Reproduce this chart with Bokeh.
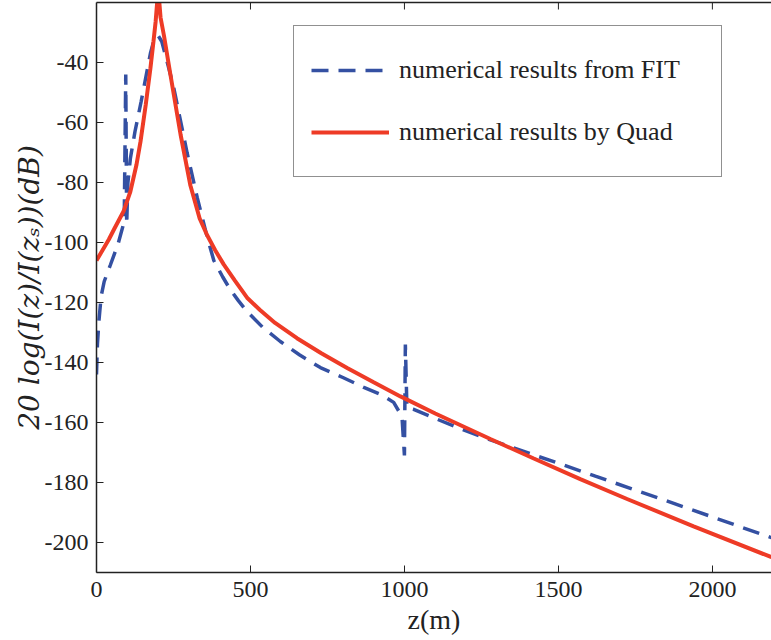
from bokeh.plotting import figure
from bokeh.models import Range1d, LinearAxis, Legend, LegendItem, FixedTicker
from bokeh.embed import file_html
from bokeh.resources import INLINE

# ---- data ----
z_fit = [0, 3, 8, 15, 25, 45, 70, 90, 95, 98, 102, 110, 125, 145, 160, 175, 188, 200, 212,
         230, 250, 270, 294, 327, 359, 381, 410, 435, 460, 489, 540, 597, 660, 727, 800,
         868, 930, 965, 992, 1000, 1003, 1008, 1030, 1106, 1180, 1257, 1333, 1420, 1506,
         1620, 1744, 1870, 2003, 2100, 2192]
db_fit = [-144, -134, -126, -118, -113, -107.5, -100.5, -93, -44, -94, -80, -72, -63, -53,
          -45, -37, -32, -31, -33, -40, -48, -58, -70, -85, -98, -106, -111.5, -115.8,
          -119.3, -123, -128.3, -133, -137.5, -141.7, -145, -148.3, -151, -153.3, -158,
          -171, -134, -155, -155.6, -158.9, -162, -165, -167.7, -170.8, -173.8, -177.9,
          -182.3, -186.8, -191.6, -195.1, -198.4]

z_quad = [0, 20, 40, 60, 88, 110, 130, 143, 160, 175, 185, 192, 197, 200, 204, 208, 219,
          240, 273, 305, 335, 359, 385, 413, 450, 489, 530, 580, 651, 730, 814, 900, 987,
          1100, 1279, 1420, 1571, 1723, 1939, 2192]
db_quad = [-106, -102.5, -99, -95, -89.6, -83, -74, -66.3, -54, -42, -33, -26.4, -20, -12,
           -20, -25, -31, -44, -64, -81, -92, -97.5, -102.5, -107.3, -112.8, -118.4, -122.4,
           -126.8, -131.9, -136.9, -141.8, -146.6, -151.3, -157.0, -165.5, -172.0, -178.9,
           -185.5, -194.6, -204.9]

x_ticks = [0, 500, 1000, 1500, 2000]
y_ticks = [-200, -180, -160, -140, -120, -100, -80, -60, -40]
legend_labels = ["numerical results from FIT", "numerical results by Quad"]
y_label = "20 log(I(z)/I(zₛ))(dB)"
x_label = "z(m)"

BLUE = "#3450A2"
RED = "#EE3B26"
INK = "#222222"
SERIF = "Liberation Serif"

p = figure(width=771, height=640, output_backend="svg", toolbar_location=None,
           x_range=Range1d(0, 2192), y_range=Range1d(-210, -20),
           x_axis_label=x_label, y_axis_label=y_label)
p.min_border_left = 96
p.min_border_right = 0
p.min_border_top = 2
p.min_border_bottom = 68
p.outline_line_color = None
p.grid.visible = False
p.background_fill_color = "white"
p.border_fill_color = "white"

for ax in (p.xaxis[0], p.yaxis[0]):
    ax.axis_line_color = INK
    ax.axis_line_width = 1.5
    ax.major_tick_in = 7
    ax.major_tick_out = 0
    ax.major_tick_line_color = INK
    ax.minor_tick_line_color = None
    ax.major_label_text_font = SERIF
    ax.major_label_text_font_size = "24px"
    ax.major_label_text_color = INK
    ax.axis_label_text_color = INK

p.xaxis[0].ticker = FixedTicker(ticks=x_ticks)
p.yaxis[0].ticker = FixedTicker(ticks=y_ticks)
p.yaxis[0].major_label_overrides = {t: str(t) for t in y_ticks}
p.xaxis[0].major_label_standoff = 9
p.yaxis[0].major_label_standoff = 8
p.xaxis[0].axis_label_text_font = SERIF
p.xaxis[0].axis_label_text_font_size = "28px"
p.xaxis[0].axis_label_text_font_style = "normal"
p.xaxis[0].axis_label_standoff = 4
p.yaxis[0].axis_label_text_font = "DejaVu Serif"
p.yaxis[0].axis_label_text_font_size = "28px"
p.yaxis[0].axis_label_text_font_style = "italic"
p.yaxis[0].axis_label_standoff = -4

# top frame line (no labels) and inward tick marks at the top
top = LinearAxis(ticker=FixedTicker(ticks=[]))
top.axis_line_color = INK
top.axis_line_width = 1.5
top.minor_tick_line_color = None
p.add_layout(top, "above")
tick_len = 7 * (p.y_range.end - p.y_range.start) / 570.0
p.segment(x0=x_ticks, y0=[p.y_range.end] * len(x_ticks), x1=x_ticks,
          y1=[p.y_range.end - tick_len] * len(x_ticks), line_color=INK, line_width=1)

r_fit = p.line(z_fit, db_fit, line_color=BLUE, line_width=3.5, line_dash="17 10")
r_quad = p.line(z_quad, db_quad, line_color=RED, line_width=4)

legend = Legend(items=[LegendItem(label=legend_labels[0], renderers=[r_fit]),
                       LegendItem(label=legend_labels[1], renderers=[r_quad])],
                location=(197, 395))
legend.border_line_color = INK
legend.border_line_width = 1.5
legend.background_fill_color = "white"
legend.background_fill_alpha = 1
legend.padding = 17
legend.margin = 0
legend.spacing = 8
legend.glyph_height = 54
legend.glyph_width = 78
legend.label_standoff = 10
legend.label_width = 305
legend.label_text_font = SERIF
legend.label_text_font_size = "26px"
legend.label_text_color = INK
p.add_layout(legend)

open("out.html", "w").write(file_html(p, INLINE))
